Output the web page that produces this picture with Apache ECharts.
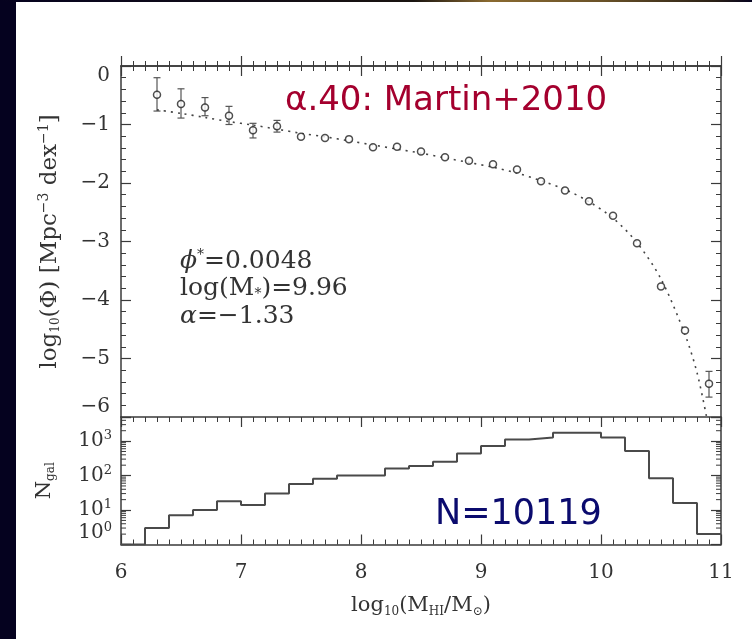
<!DOCTYPE html>
<html>
<head>
<meta charset="utf-8">
<script src="https://cdn.jsdelivr.net/npm/echarts@6/dist/echarts.min.js"></script>
<style>
  html, body { margin: 0; padding: 0; background: #ffffff; }
  #chart { width: 752px; height: 639px; }
</style>
</head>
<body>
<div id="chart"></div>
<script>
// HI mass function (ALFALFA α.40): binned points with errors
const phiMass   = [6.3, 6.5, 6.7, 6.9, 7.1, 7.3, 7.5, 7.7, 7.9, 8.1, 8.3, 8.5,
                   8.7, 8.9, 9.1, 9.3, 9.5, 9.7, 9.9, 10.1, 10.3, 10.5, 10.7, 10.9];
const phiValues = [-0.49, -0.65, -0.71, -0.85, -1.10, -1.03, -1.21, -1.23, -1.25, -1.39, -1.38, -1.46,
                   -1.56, -1.62, -1.68, -1.77, -1.97, -2.13, -2.31, -2.56, -3.03, -3.77, -4.52, -5.43];
const phiErrHigh = [-0.20, -0.39, -0.54, -0.69, -0.98, -0.93, null, null, null, null, null, null,
                    null, null, null, null, null, null, null, null, null, null, null, -5.22];
const phiErrLow  = [-0.77, -0.89, -0.85, -1.00, -1.23, -1.13, null, null, null, null, null, null,
                    null, null, null, null, null, null, null, null, null, null, null, -5.66];

// Schechter fit curve (dotted)
const fitMass   = [6.3, 6.5, 6.7, 6.9, 7.1, 7.3, 7.5, 7.7, 7.9, 8.1, 8.3, 8.5, 8.7,
                   8.9, 9.1, 9.3, 9.5, 9.7, 9.9, 10.1, 10.3, 10.5, 10.7, 10.8, 10.88];
const fitValues = [-0.75, -0.81, -0.88, -0.95, -1.01, -1.08, -1.15, -1.21, -1.28, -1.35, -1.42, -1.49, -1.57,
                   -1.65, -1.73, -1.83, -1.96, -2.11, -2.32, -2.60, -3.02, -3.64, -4.59, -5.24, -6.0];

// Galaxy counts per 0.2 dex bin (left edges), histogram panel
const binEdges = [6.0, 6.2, 6.4, 6.6, 6.8, 7.0, 7.2, 7.4, 7.6, 7.8, 8.0, 8.2, 8.4,
                  8.6, 8.8, 9.0, 9.2, 9.4, 9.6, 9.8, 10.0, 10.2, 10.4, 10.6, 10.8];
const binCounts = [1, 3, 7, 10, 18, 14, 30, 57, 81, 100, 100, 160, 190,
                   250, 440, 720, 1120, 1280, 1740, 1740, 1280, 520, 83, 16, 2];
const binLast = 11.0;

const massTicks = [6, 7, 8, 9, 10, 11];
const fitText = ['{i|ϕ}{sup|*}=0.0048', 'log(M{sub|*})=9.96', '{i|α}=−1.33'];

const SERIF = '"DejaVu Serif", "Liberation Serif", serif';
const INK = '#3a3a3a';

const chart = echarts.init(document.getElementById('chart'), null, { renderer: 'canvas' });

const histData = binEdges.map((x, i) => [x, binCounts[i]]);
histData.push([binLast, binCounts[binCounts.length - 1]]);

const errData = [];
phiMass.forEach((x, i) => {
  if (phiErrHigh[i] !== null) errData.push([x, phiErrLow[i], phiErrHigh[i]]);
});

// minor ticks for the logarithmic count axis (2..9 in each decade)
const logMinor = [];
for (let d = 0; d < 4; d++) {
  for (let k = 2; k <= 9; k++) {
    const v = k * Math.pow(10, d);
    if (v < 5000) logMinor.push([v]);
  }
}

const axisLine = { show: true, lineStyle: { color: INK, width: 1.5 } };
const tickIn = { show: true, inside: true, length: 10, lineStyle: { color: INK, width: 1.2 } };
const minorIn = (n) => ({ show: true, splitNumber: n, length: 5, lineStyle: { color: INK, width: 1 } });
const labelFont = { fontFamily: SERIF, fontSize: 20, color: '#333' };
const minus = (v) => (v < 0 ? '−' + (-v) : String(v));
const supRich = { fontFamily: SERIF, fontSize: 14, color: '#333', padding: [0, 0, 12, 0] };
const subRich = { fontFamily: SERIF, fontSize: 12, color: '#333', padding: [12, 0, 0, 0] };

const option = {
  animation: false,
  backgroundColor: '#ffffff',
  grid: [
    { left: 121, right: 31, top: 66, height: 351 },
    { left: 121, right: 31, top: 417, height: 127.5 }
  ],
  xAxis: [
    { gridIndex: 0, type: 'value', position: 'bottom', min: 6, max: 11, interval: 1,
      axisLine, axisTick: tickIn, minorTick: minorIn(10), axisLabel: { show: false }, splitLine: { show: false } },
    { gridIndex: 0, type: 'value', position: 'top', min: 6, max: 11, interval: 1,
      axisLine, axisTick: tickIn, minorTick: minorIn(10), axisLabel: { show: false }, splitLine: { show: false } },
    { gridIndex: 1, type: 'value', position: 'bottom', min: 6, max: 11, interval: 1,
      axisLine, axisTick: tickIn, minorTick: minorIn(10), splitLine: { show: false },
      axisLabel: Object.assign({ margin: 18 }, labelFont),
      name: 'log{sub|10}(M{sub|HI}/M{sub|⊙})', nameLocation: 'middle', nameGap: 49,
      nameTextStyle: { fontFamily: SERIF, fontSize: 21, color: '#333', rich: { sub: subRich } } },
    { gridIndex: 1, type: 'value', position: 'top', min: 6, max: 11, interval: 1,
      axisLine, axisTick: tickIn, minorTick: minorIn(10), axisLabel: { show: false }, splitLine: { show: false } }
  ],
  yAxis: [
    { gridIndex: 0, type: 'value', position: 'left', min: -6, max: 0, interval: 1,
      axisLine, axisTick: tickIn, minorTick: minorIn(5), splitLine: { show: false },
      axisLabel: Object.assign({ margin: 11, formatter: minus,
        verticalAlignMinLabel: 'bottom', verticalAlignMaxLabel: 'top' }, labelFont),
      name: 'log{sub|10}(Φ) [Mpc{sup|−3} dex{sup|−1}]', nameLocation: 'middle', nameGap: 58, nameRotate: 90,
      nameTextStyle: { fontFamily: SERIF, fontSize: 23, color: '#333', rich: { sub: subRich, sup: supRich } } },
    { gridIndex: 0, type: 'value', position: 'right', min: -6, max: 0, interval: 1,
      axisLine, axisTick: tickIn, minorTick: minorIn(5), axisLabel: { show: false }, splitLine: { show: false } },
    { gridIndex: 1, type: 'log', position: 'left', min: 1, max: 5000, logBase: 10,
      axisLine, axisTick: tickIn, splitLine: { show: false },
      axisLabel: Object.assign({ margin: 9, verticalAlignMinLabel: 'bottom', formatter: (v) => {
        const e = Math.log10(v);
        return Math.abs(e - Math.round(e)) < 1e-6 ? '10{sup|' + Math.round(e) + '}' : '';
      }, rich: { sup: { fontFamily: SERIF, fontSize: 13, color: '#333', padding: [0, 0, 10, 0] } } }, labelFont),
      name: 'N{sub|gal}', nameLocation: 'middle', nameGap: 64, nameRotate: 90,
      nameTextStyle: { fontFamily: SERIF, fontSize: 21, color: '#333', rich: { sub: subRich } } },
    { gridIndex: 1, type: 'log', position: 'right', min: 1, max: 5000, logBase: 10,
      axisLine, axisTick: tickIn, axisLabel: { show: false }, splitLine: { show: false } }
  ],
  graphic: [
    { type: 'rect', left: 0, top: 0, shape: { width: 16, height: 639 }, style: { fill: '#05021f' }, z: 100 },
    { type: 'rect', left: 0, top: 0, shape: { width: 752, height: 2 },
      style: { fill: new echarts.graphic.LinearGradient(0, 0, 1, 0, [
        { offset: 0, color: '#05021f' }, { offset: 0.55, color: '#1a1410' },
        { offset: 0.65, color: '#8a6a30' }, { offset: 0.8, color: '#6a5228' },
        { offset: 0.95, color: '#2a2015' }, { offset: 1, color: '#05021f' }]) }, z: 100 },
    { type: 'text', left: 285, top: 84,
      style: { text: 'α.40: Martin+2010', fill: '#a4002e',
        font: '34px "DejaVu Sans", "Noto Sans", sans-serif' } },
    { type: 'text', left: 435, top: 497,
      style: { text: 'N=10119', fill: '#0b0b6e',
        font: '35px "DejaVu Sans", "Noto Sans", sans-serif' } },
    { type: 'text', left: 180, top: 248,
      style: { text: fitText[0], fill: '#333', font: '25px ' + SERIF,
        rich: { i: { fontFamily: SERIF, fontStyle: 'italic', fontSize: 25, fill: '#333' },
                sup: { fontFamily: SERIF, fontSize: 14, fill: '#333', padding: [0, 0, 12, 0] } } } },
    { type: 'text', left: 180, top: 276,
      style: { text: fitText[1], fill: '#333', font: '25px ' + SERIF,
        rich: { sub: { fontFamily: SERIF, fontSize: 14, fill: '#333', padding: [12, 0, 0, 0] } } } },
    { type: 'text', left: 180, top: 304,
      style: { text: fitText[2], fill: '#333', font: '25px ' + SERIF,
        rich: { i: { fontFamily: SERIF, fontStyle: 'italic', fontSize: 25, fill: '#333' } } } }
  ],
  series: [
    { type: 'line', xAxisIndex: 0, yAxisIndex: 0,
      data: fitMass.map((x, i) => [x, fitValues[i]]),
      showSymbol: false, smooth: 0.3, clip: true,
      lineStyle: { color: '#444', width: 1.6, type: [2, 5] } },
    { type: 'custom', xAxisIndex: 0, yAxisIndex: 0, data: errData,
      renderItem: (params, api) => {
        const x = api.value(0);
        const p1 = api.coord([x, api.value(2)]);
        const p2 = api.coord([x, api.value(1)]);
        const w = 3.5;
        const st = { stroke: '#555', lineWidth: 1.2 };
        return { type: 'group', children: [
          { type: 'line', shape: { x1: p1[0], y1: p1[1], x2: p2[0], y2: p2[1] }, style: st },
          { type: 'line', shape: { x1: p1[0] - w, y1: p1[1], x2: p1[0] + w, y2: p1[1] }, style: st },
          { type: 'line', shape: { x1: p2[0] - w, y1: p2[1], x2: p2[0] + w, y2: p2[1] }, style: st }
        ] };
      } },
    { type: 'scatter', xAxisIndex: 0, yAxisIndex: 0,
      data: phiMass.map((x, i) => [x, phiValues[i]]),
      symbol: 'circle', symbolSize: 7,
      itemStyle: { color: '#ffffff', borderColor: '#222', borderWidth: 1.5 }, z: 5 },
    { type: 'line', xAxisIndex: 2, yAxisIndex: 2, data: histData,
      step: 'end', showSymbol: false,
      lineStyle: { color: '#4a4a4a', width: 2 } },
    { type: 'custom', xAxisIndex: 2, yAxisIndex: 2, data: logMinor,
      renderItem: (params, api) => {
        const v = api.value(0);
        const a = api.coord([6, v]);
        const b = api.coord([11, v]);
        const st = { stroke: INK, lineWidth: 1 };
        return { type: 'group', children: [
          { type: 'line', shape: { x1: a[0], y1: a[1], x2: a[0] + 5, y2: a[1] }, style: st },
          { type: 'line', shape: { x1: b[0] - 5, y1: b[1], x2: b[0], y2: b[1] }, style: st }
        ] };
      } }
  ]
};

chart.setOption(option);
</script>
</body>
</html>
